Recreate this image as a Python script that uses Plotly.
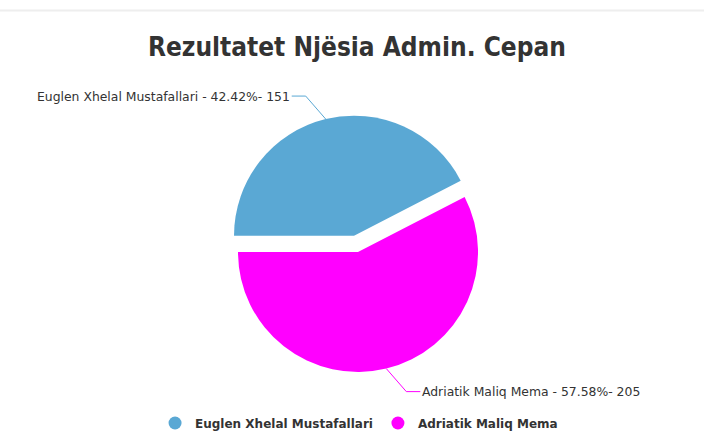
import math

import plotly.graph_objects as go

W, H = 704, 441

TITLE = "Rezultatet Njësia Admin. Cepan"
CANDIDATES = ["Euglen Xhelal Mustafallari", "Adriatik Maliq Mema"]
VOTES = [151, 205]
PERCENTS = ["42.42%", "57.58%"]
COLORS = ["#5aa8d4", "#ff00ff"]
PULLS = [0.14, 0]

# pie geometry in pixels (centre of the unpulled pie, radius)
CX, CY, R = 358, 252, 120
START = 270  # first slice starts at 9 o'clock, clockwise

half = R * (1 + max(PULLS))
dom_x = [(CX - half) / W, (CX + half) / W]
dom_y = [(H - CY - half) / H, (H - CY + half) / H]

fig = go.Figure()
fig.add_trace(
    go.Pie(
        labels=CANDIDATES,
        values=VOTES,
        marker=dict(colors=COLORS, line=dict(width=0)),
        pull=PULLS,
        sort=False,
        direction="clockwise",
        rotation=START - 360,
        textinfo="none",
        showlegend=False,
        domain=dict(x=dom_x, y=dom_y),
    )
)

# legend entries with round markers
for name, color in zip(CANDIDATES, COLORS):
    fig.add_trace(
        go.Scatter(
            x=[None], y=[None], mode="markers", name=name,
            marker=dict(color=color, size=13, symbol="circle"),
        )
    )

# Highcharts-style data labels with elbow connectors
total = sum(VOTES)
angle = START
shapes = []
annotations = []
px = lambda x: x / W
py = lambda y: 1 - y / H
for name, v, pct, color, pull in zip(CANDIDATES, VOTES, PERCENTS, COLORS, PULLS):
    span = 360 * v / total
    mid = math.radians(angle + span / 2)
    angle += span
    sx, sy = math.sin(mid), math.cos(mid)
    ox, oy = CX + pull * R * sx, CY - pull * R * sy
    ex, ey = ox + R * sx, oy - R * sy
    side = 1 if sx > 0 else -1
    kx, ky = ex + side * 20, ey - (1 if sy > 0 else -1) * 23
    tx = kx + side * 14
    shapes.append(dict(
        type="path", xref="paper", yref="paper",
        path=f"M {px(ex)} {py(ey)} L {px(kx)} {py(ky)} L {px(tx)} {py(ky)}",
        line=dict(color=color, width=1),
    ))
    annotations.append(dict(
        text=f"{name} - {pct}- {v}", x=px(tx), y=py(ky),
        xref="paper", yref="paper", showarrow=False,
        xanchor="left" if side > 0 else "right", yanchor="middle",
        font=dict(family="DejaVu Sans", size=12.4, color="#333333"),
    ))

shapes.append(dict(
    type="line", xref="paper", yref="paper", x0=0, x1=1,
    y0=py(10.5), y1=py(10.5), line=dict(color="#eeeeee", width=2),
))

fig.update_layout(
    width=W, height=H,
    margin=dict(l=0, r=0, t=0, b=0),
    paper_bgcolor="white", plot_bgcolor="white",
    title=dict(
        text=TITLE, x=0.507, xanchor="center", y=py(47), yanchor="middle",
        font=dict(family="DejaVu Sans Condensed, DejaVu Sans", size=26,
                  color="#333333", weight="bold"),
    ),
    xaxis=dict(visible=False), yaxis=dict(visible=False),
    legend=dict(
        orientation="h", x=0.51, xanchor="center", y=py(423), yanchor="middle",
        font=dict(family="DejaVu Sans", size=12, color="#333333", weight="bold"),
        itemwidth=30,
    ),
    shapes=shapes,
    annotations=annotations,
)

fig.write_html(
    "out.html",
    config={"displayModeBar": False},
    post_script="document.body.style.margin='0';document.body.style.overflow='hidden';",
)
